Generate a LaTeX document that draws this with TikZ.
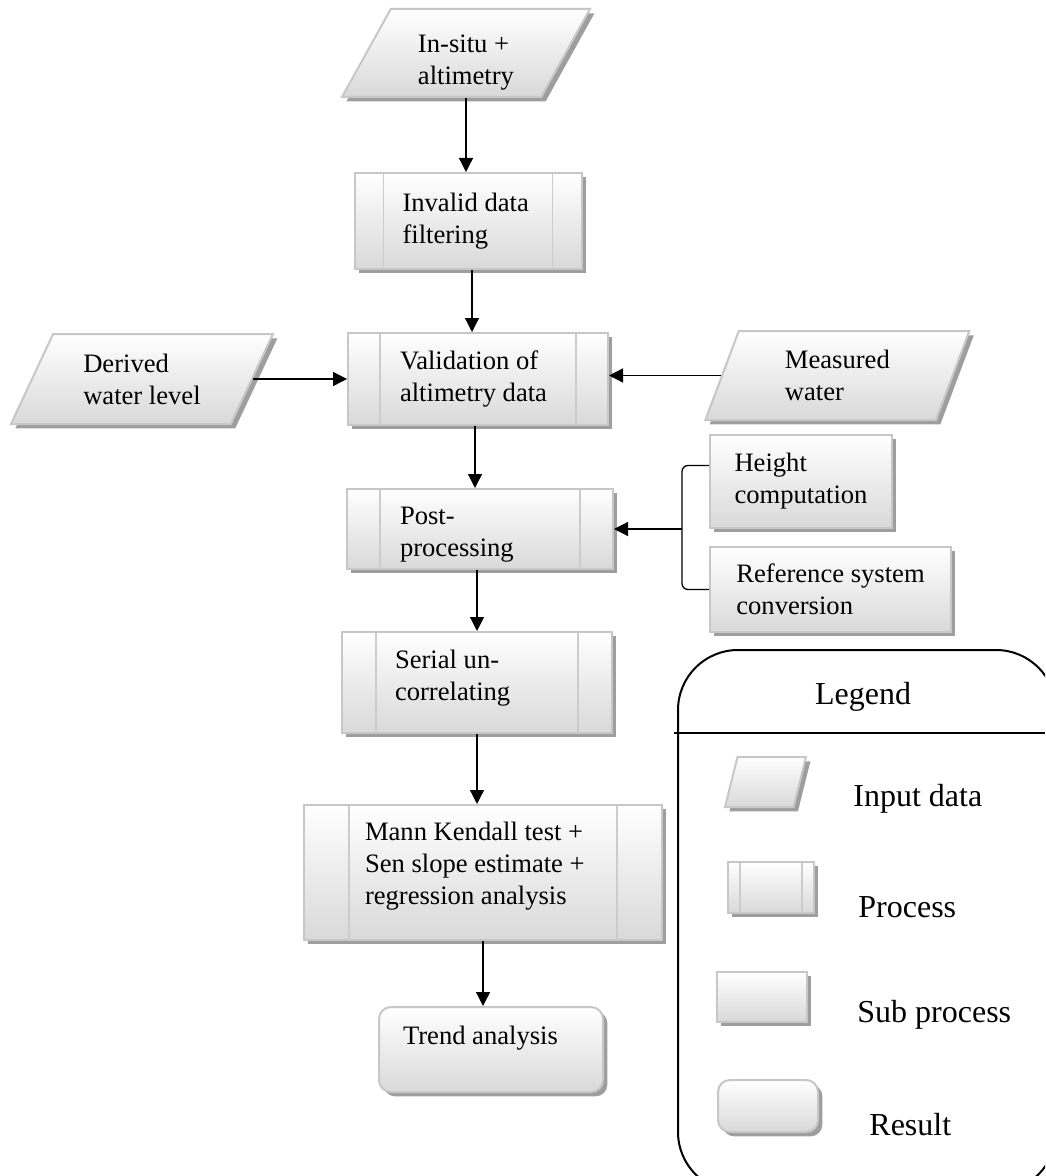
\documentclass[tikz,border=0pt]{standalone}
\usepackage{fontspec}
\setmainfont{Liberation Serif}
\usepackage{tikz}
\usetikzlibrary{positioning}
\usetikzlibrary{shapes.geometric,arrows.meta,shadows}
\tikzstyle{base} = [draw=black!22, line width=1pt, top color=white, bottom color=black!15,
    drop shadow={shadow xshift=2.2pt, shadow yshift=-2.2pt, fill=black!38, opacity=1},
    inner sep=0pt]
\tikzstyle{block} = [base, rectangle, align=flush left]
\tikzstyle{result} = [base, rectangle, rounded corners=6pt, align=flush left]
\tikzstyle{key} = [inner sep=0pt, anchor=west, font=\fontsize{16}{19}\selectfont]
\tikzstyle{line} = [draw, line width=0.65pt, -{Triangle[length=7pt, width=7pt]}]
\tikzset{
  process/.style={block, path picture={
      \draw [black!20, line width=0.6pt]
        ([xshift=#1]path picture bounding box.north west) -- ([xshift=#1]path picture bounding box.south west)
        ([xshift=-#1]path picture bounding box.north east) -- ([xshift=-#1]path picture bounding box.south east);}},
  process/.default=16pt,
  data/.style={base, trapezium, trapezium left angle=#1,
      trapezium right angle=\the\numexpr180-#1\relax,
      trapezium stretches body, inner ysep=8pt, align=flush left},
  data/.default=62
}

\begin{document}
\begin{tikzpicture}[x=0.5pt, y=-0.5pt, node distance=32pt, font=\fontsize{13.3}{16}\selectfont]
        \useasboundingbox (0,0) rectangle (1045,1176);
        % main chain
        \node [data=61, minimum width=124pt, minimum height=44pt, text height=35pt, text depth=3pt, inner ysep=3pt] (insitu) at (466,53) {In-situ +\\altimetry};
        \node [process=14.5pt, below=37pt of insitu, xshift=1pt, minimum width=113.5pt, minimum height=48pt, text width=65.5pt] (filter) {Invalid data\\filtering};
        \node [process=16pt, below=31pt of filter, xshift=5pt, minimum width=130pt, minimum height=46pt, text width=78pt] (valid) {Validation of\\altimetry data};
        \node [process=16.5pt, below=31pt of valid, xshift=1pt, minimum width=133pt, minimum height=40pt, text width=80pt, text height=14.5pt] (post) {Post-\\processing};
        \node [process=17pt, below=30.5pt of post, xshift=-1.5pt, minimum width=135pt, minimum height=50.5pt, text width=82pt, text depth=23.4pt] (serial) {Serial un-\\correlating};
        \node [process=22.5pt, below=35pt of serial, xshift=3pt, minimum width=179pt, minimum height=67.5pt, text width=118pt, text depth=41.4pt] (mann) {Mann Kendall test +\\Sen slope estimate +\\regression analysis};
        \node [result, below=32.5pt of mann, xshift=4pt, minimum width=112pt, minimum height=42.5pt, text width=88pt, text depth=14.5pt] (trend) {Trend analysis};
        % side inputs
        \node [data=63, left=47pt of valid, minimum width=131pt, minimum height=45pt] (derived) {Derived\\water level};
        \node [data=68, right=56pt of valid, yshift=1.75pt, minimum width=132pt, minimum height=44.5pt] (measured) {Measured\\water};
        \node [block, right=47.5pt of post, yshift=23.75pt, minimum width=91pt, minimum height=46.5pt] (height) {Height\\computation};
        \node [block, below=8.5pt of height.south west, anchor=north west, minimum width=120.5pt, minimum height=42.5pt] (refsys) {Reference system\\conversion};
        \coordinate [right=34pt of post] (brk);
        % edges
        \path [line] (insitu.south) -- (insitu.south |- filter.north);
        \path [line] ([xshift=2pt]filter.south) -- ([xshift=2pt]filter.south |- valid.north);
        \path [line] ([xshift=-1.5pt]valid.south) -- ([xshift=-1.5pt]valid.south |- post.north);
        \path [line] (serial.north |- post.south) -- (serial.north);
        \path [line] (serial.south) -- (serial.south |- mann.north);
        \path [line] (mann.south) -- (mann.south |- trend.north);
        \path [line] (derived.east) -- (derived.east -| valid.west);
        \path [line] (measured.west) -- (measured.west -| valid.east);
        \path [line] (brk) -- (brk -| post.east);
        \draw [line width=0.65pt, rounded corners=3pt] ([yshift=8pt]height.west) -| (brk) |- (refsys.west);
        % legend
        \begin{scope}
          \clip (0,0) rectangle (1045,1176);
          \draw [line width=1pt, rounded corners=30pt] (678,650) rectangle (1056,1192);
        \end{scope}
        \draw [line width=1pt] (674,733) -- (1045,733);
        \node [font=\fontsize{16}{19}\selectfont] (legend) at (863,697) {Legend};
        \node [data=76, inner ysep=12.5pt, minimum width=40.5pt, minimum height=25pt] (keydata) at (765.5,782) {};
        \node [process=6pt, minimum width=43pt, minimum height=25.5pt] (keyproc) at (771,887.5) {};
        \node [block, minimum width=45pt, minimum height=25pt] (keysub) at (762,997) {};
        \node [result, minimum width=50pt, minimum height=26pt] (keyres) at (768,1106) {};
        \node [key] (keydatatxt) at (853,799) {Input data};
        \node [key] (keyproctxt) at (858,907) {Process};
        \node [key] (keysubtxt) at (857,1015) {Sub process};
        \node [key] (keyrestxt) at (869,1125) {Result};
    \end{tikzpicture}
\end{document}
